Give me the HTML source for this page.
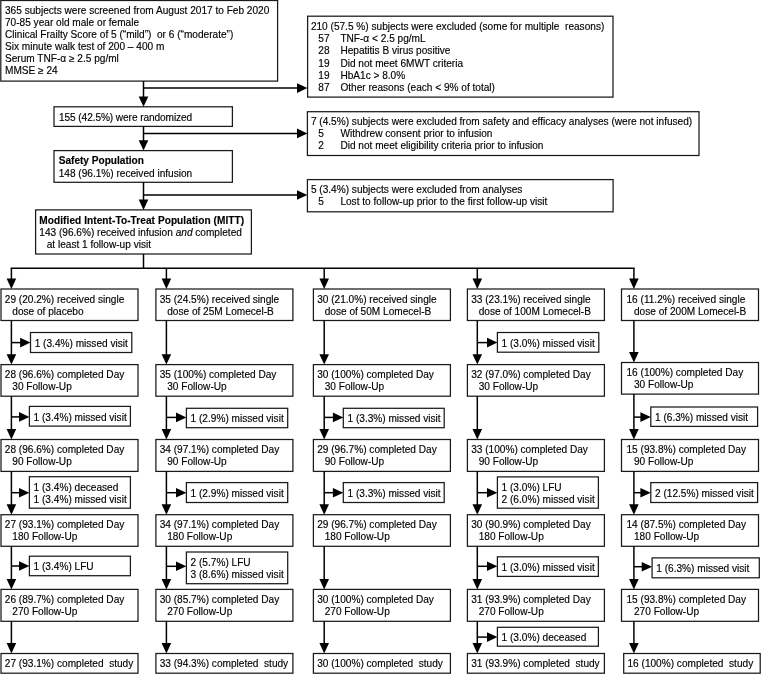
<!DOCTYPE html>
<html><head><meta charset="utf-8"><style>
html,body{margin:0;padding:0;background:#fff;}
body{width:761px;height:674px;overflow:hidden;}
svg{display:block;will-change:transform;}
text{font-family:"Liberation Sans",sans-serif;font-size:10.1px;fill:#000;stroke:#000;stroke-width:0.15px;white-space:pre;}
.bd{font-weight:bold;}
.b{fill:none;stroke:#1a1a1a;stroke-width:1.25;}
.l{fill:none;stroke:#000;stroke-width:1.5;}
.h{fill:#000;stroke:none;}
</style></head><body>
<svg width="761" height="674" viewBox="0 0 761 674" xml:space="preserve">
<rect x="0.80" y="0.50" width="276.80" height="80.60" class="b"/>
<text x="5.00" y="13.80">365 subjects were screened from August 2017 to Feb 2020</text>
<text x="5.00" y="25.90">70-85 year old male or female</text>
<text x="5.00" y="38.00">Clinical Frailty Score of 5 (“mild”)  or 6 (“moderate”)</text>
<text x="5.00" y="50.10">Six minute walk test of 200 – 400 m</text>
<text x="5.00" y="62.20">Serum TNF-α ≥ 2.5 pg/ml</text>
<text x="5.00" y="74.30">MMSE ≥ 24</text>
<path d="M143.50 81.10L143.50 101.80" class="l"/>
<path d="M138.70 96.40L148.30 96.40L143.50 106.80Z" class="h"/>
<path d="M143.50 88.10L302.40 88.10" class="l"/>
<path d="M297.00 83.30L297.00 92.90L307.40 88.10Z" class="h"/>
<rect x="307.60" y="16.20" width="305.40" height="80.90" class="b"/>
<text x="310.90" y="30.00">210 (57.5 %) subjects were excluded (some for multiple  reasons)</text>
<text x="318.30" y="42.10">57</text>
<text x="340.40" y="42.10">TNF-α &lt; 2.5 pg/mL</text>
<text x="318.30" y="54.30">28</text>
<text x="340.40" y="54.30">Hepatitis B virus positive</text>
<text x="318.30" y="66.50">19</text>
<text x="340.40" y="66.50">Did not meet 6MWT criteria</text>
<text x="318.30" y="78.70">19</text>
<text x="340.40" y="78.70">HbA1c &gt; 8.0%</text>
<text x="318.30" y="90.90">87</text>
<text x="340.40" y="90.90">Other reasons (each &lt; 9% of total)</text>
<rect x="54.00" y="106.80" width="178.40" height="19.60" class="b"/>
<text x="59.00" y="120.50" textLength="133.2" lengthAdjust="spacing">155 (42.5%) were randomized</text>
<path d="M143.50 126.40L143.50 145.60" class="l"/>
<path d="M138.70 140.20L148.30 140.20L143.50 150.60Z" class="h"/>
<path d="M143.50 133.40L302.40 133.40" class="l"/>
<path d="M297.00 128.60L297.00 138.20L307.40 133.40Z" class="h"/>
<rect x="307.40" y="111.70" width="391.60" height="43.80" class="b"/>
<text x="310.90" y="125.00">7 (4.5%) subjects were excluded from safety and efficacy analyses (were not infused)</text>
<text x="318.30" y="137.10">5</text>
<text x="340.40" y="137.10">Withdrew consent prior to infusion</text>
<text x="318.30" y="149.20">2</text>
<text x="340.40" y="149.20">Did not meet eligibility criteria prior to infusion</text>
<rect x="54.00" y="150.60" width="178.40" height="31.70" class="b"/>
<text x="58.70" y="164.30" class="bd">Safety Population</text>
<text x="58.70" y="176.60">148 (96.1%) received infusion</text>
<path d="M143.50 182.30L143.50 204.90" class="l"/>
<path d="M138.70 199.50L148.30 199.50L143.50 209.90Z" class="h"/>
<path d="M143.50 195.00L302.40 195.00" class="l"/>
<path d="M297.00 190.20L297.00 199.80L307.40 195.00Z" class="h"/>
<rect x="307.40" y="179.60" width="305.70" height="32.20" class="b"/>
<text x="310.90" y="192.90">5 (3.4%) subjects were excluded from analyses</text>
<text x="318.30" y="205.30">5</text>
<text x="340.40" y="205.30">Lost to follow-up prior to the first follow-up visit</text>
<rect x="35.60" y="209.90" width="215.80" height="44.10" class="b"/>
<text x="39.30" y="223.70" class="bd" textLength="204.8" lengthAdjust="spacing">Modified Intent-To-Treat Population (MITT)</text>
<text x="39.30" y="235.60">143 (96.6%) received infusion <tspan font-style="italic">and</tspan> completed</text>
<text x="46.70" y="248.20">at least 1 follow-up visit</text>
<path d="M143.50 254.00L143.50 268.20" class="l"/>
<path d="M10.65 268.20L634.65 268.20" class="l"/>
<path d="M11.40 268.20L11.40 284.00" class="l"/>
<path d="M6.60 278.60L16.20 278.60L11.40 289.00Z" class="h"/>
<rect x="1.00" y="289.00" width="137.00" height="31.50" class="b"/>
<text x="4.80" y="302.50">29 (20.2%) received single</text>
<text x="12.30" y="314.50">dose of placebo</text>
<path d="M11.40 320.50L11.40 359.60" class="l"/>
<path d="M6.60 354.20L16.20 354.20L11.40 364.60Z" class="h"/>
<rect x="1.00" y="364.60" width="137.00" height="31.60" class="b"/>
<text x="4.80" y="378.10">28 (96.6%) completed Day</text>
<text x="12.30" y="390.10">30 Follow-Up</text>
<path d="M11.40 396.20L11.40 434.50" class="l"/>
<path d="M6.60 429.10L16.20 429.10L11.40 439.50Z" class="h"/>
<rect x="1.00" y="439.50" width="137.00" height="31.90" class="b"/>
<text x="4.80" y="453.00">28 (96.6%) completed Day</text>
<text x="12.30" y="465.00">90 Follow-Up</text>
<path d="M11.40 471.40L11.40 509.70" class="l"/>
<path d="M6.60 504.30L16.20 504.30L11.40 514.70Z" class="h"/>
<rect x="1.00" y="514.70" width="137.00" height="31.60" class="b"/>
<text x="4.80" y="528.20">27 (93.1%) completed Day</text>
<text x="12.30" y="540.20">180 Follow-Up</text>
<path d="M11.40 546.30L11.40 584.40" class="l"/>
<path d="M6.60 579.00L16.20 579.00L11.40 589.40Z" class="h"/>
<rect x="1.00" y="589.40" width="137.00" height="31.90" class="b"/>
<text x="4.80" y="602.90">26 (89.7%) completed Day</text>
<text x="12.30" y="614.90">270 Follow-Up</text>
<path d="M11.40 621.30L11.40 648.50" class="l"/>
<path d="M6.60 643.10L16.20 643.10L11.40 653.50Z" class="h"/>
<rect x="1.00" y="653.50" width="137.00" height="19.70" class="b"/>
<text x="4.80" y="667.00">27 (93.1%) completed  study</text>
<path d="M166.40 268.20L166.40 284.00" class="l"/>
<path d="M161.60 278.60L171.20 278.60L166.40 289.00Z" class="h"/>
<rect x="155.90" y="289.00" width="137.00" height="31.50" class="b"/>
<text x="159.70" y="302.50">35 (24.5%) received single</text>
<text x="167.20" y="314.50">dose of 25M Lomecel-B</text>
<path d="M166.40 320.50L166.40 359.60" class="l"/>
<path d="M161.60 354.20L171.20 354.20L166.40 364.60Z" class="h"/>
<rect x="155.90" y="364.60" width="137.00" height="31.60" class="b"/>
<text x="159.70" y="378.10">35 (100%) completed Day</text>
<text x="167.20" y="390.10">30 Follow-Up</text>
<path d="M166.40 396.20L166.40 434.50" class="l"/>
<path d="M161.60 429.10L171.20 429.10L166.40 439.50Z" class="h"/>
<rect x="155.90" y="439.50" width="137.00" height="31.90" class="b"/>
<text x="159.70" y="453.00">34 (97.1%) completed Day</text>
<text x="167.20" y="465.00">90 Follow-Up</text>
<path d="M166.40 471.40L166.40 509.70" class="l"/>
<path d="M161.60 504.30L171.20 504.30L166.40 514.70Z" class="h"/>
<rect x="155.90" y="514.70" width="137.00" height="31.60" class="b"/>
<text x="159.70" y="528.20">34 (97.1%) completed Day</text>
<text x="167.20" y="540.20">180 Follow-Up</text>
<path d="M166.40 546.30L166.40 584.40" class="l"/>
<path d="M161.60 579.00L171.20 579.00L166.40 589.40Z" class="h"/>
<rect x="155.90" y="589.40" width="137.00" height="31.90" class="b"/>
<text x="159.70" y="602.90">30 (85.7%) completed Day</text>
<text x="167.20" y="614.90">270 Follow-Up</text>
<path d="M166.40 621.30L166.40 648.50" class="l"/>
<path d="M161.60 643.10L171.20 643.10L166.40 653.50Z" class="h"/>
<rect x="155.90" y="653.50" width="137.00" height="19.70" class="b"/>
<text x="159.70" y="667.00">33 (94.3%) completed  study</text>
<path d="M324.20 268.20L324.20 284.00" class="l"/>
<path d="M319.40 278.60L329.00 278.60L324.20 289.00Z" class="h"/>
<rect x="313.40" y="289.00" width="137.00" height="31.50" class="b"/>
<text x="317.20" y="302.50">30 (21.0%) received single</text>
<text x="324.70" y="314.50">dose of 50M Lomecel-B</text>
<path d="M324.20 320.50L324.20 359.60" class="l"/>
<path d="M319.40 354.20L329.00 354.20L324.20 364.60Z" class="h"/>
<rect x="313.40" y="364.60" width="137.00" height="31.60" class="b"/>
<text x="317.20" y="378.10">30 (100%) completed Day</text>
<text x="324.70" y="390.10">30 Follow-Up</text>
<path d="M324.20 396.20L324.20 434.50" class="l"/>
<path d="M319.40 429.10L329.00 429.10L324.20 439.50Z" class="h"/>
<rect x="313.40" y="439.50" width="137.00" height="31.90" class="b"/>
<text x="317.20" y="453.00">29 (96.7%) completed Day</text>
<text x="324.70" y="465.00">90 Follow-Up</text>
<path d="M324.20 471.40L324.20 509.70" class="l"/>
<path d="M319.40 504.30L329.00 504.30L324.20 514.70Z" class="h"/>
<rect x="313.40" y="514.70" width="137.00" height="31.60" class="b"/>
<text x="317.20" y="528.20">29 (96.7%) completed Day</text>
<text x="324.70" y="540.20">180 Follow-Up</text>
<path d="M324.20 546.30L324.20 584.40" class="l"/>
<path d="M319.40 579.00L329.00 579.00L324.20 589.40Z" class="h"/>
<rect x="313.40" y="589.40" width="137.00" height="31.90" class="b"/>
<text x="317.20" y="602.90">30 (100%) completed Day</text>
<text x="324.70" y="614.90">270 Follow-Up</text>
<path d="M324.20 621.30L324.20 648.50" class="l"/>
<path d="M319.40 643.10L329.00 643.10L324.20 653.50Z" class="h"/>
<rect x="313.40" y="653.50" width="137.00" height="19.70" class="b"/>
<text x="317.20" y="667.00">30 (100%) completed  study</text>
<path d="M477.30 268.20L477.30 284.00" class="l"/>
<path d="M472.50 278.60L482.10 278.60L477.30 289.00Z" class="h"/>
<rect x="467.40" y="289.00" width="137.00" height="31.50" class="b"/>
<text x="471.20" y="302.50">33 (23.1%) received single</text>
<text x="478.70" y="314.50">dose of 100M Lomecel-B</text>
<path d="M477.30 320.50L477.30 359.60" class="l"/>
<path d="M472.50 354.20L482.10 354.20L477.30 364.60Z" class="h"/>
<rect x="467.40" y="364.60" width="137.00" height="31.60" class="b"/>
<text x="471.20" y="378.10">32 (97.0%) completed Day</text>
<text x="478.70" y="390.10">30 Follow-Up</text>
<path d="M477.30 396.20L477.30 434.50" class="l"/>
<path d="M472.50 429.10L482.10 429.10L477.30 439.50Z" class="h"/>
<rect x="467.40" y="439.50" width="137.00" height="31.90" class="b"/>
<text x="471.20" y="453.00">33 (100%) completed Day</text>
<text x="478.70" y="465.00">90 Follow-Up</text>
<path d="M477.30 471.40L477.30 509.70" class="l"/>
<path d="M472.50 504.30L482.10 504.30L477.30 514.70Z" class="h"/>
<rect x="467.40" y="514.70" width="137.00" height="31.60" class="b"/>
<text x="471.20" y="528.20">30 (90.9%) completed Day</text>
<text x="478.70" y="540.20">180 Follow-Up</text>
<path d="M477.30 546.30L477.30 584.40" class="l"/>
<path d="M472.50 579.00L482.10 579.00L477.30 589.40Z" class="h"/>
<rect x="467.40" y="589.40" width="137.00" height="31.90" class="b"/>
<text x="471.20" y="602.90">31 (93.9%) completed Day</text>
<text x="478.70" y="614.90">270 Follow-Up</text>
<path d="M477.30 621.30L477.30 648.50" class="l"/>
<path d="M472.50 643.10L482.10 643.10L477.30 653.50Z" class="h"/>
<rect x="467.40" y="653.50" width="137.00" height="19.70" class="b"/>
<text x="471.20" y="667.00">31 (93.9%) completed  study</text>
<path d="M633.90 268.20L633.90 284.00" class="l"/>
<path d="M629.10 278.60L638.70 278.60L633.90 289.00Z" class="h"/>
<rect x="621.50" y="289.00" width="137.00" height="31.50" class="b"/>
<text x="626.50" y="302.50">16 (11.2%) received single</text>
<text x="634.00" y="314.50">dose of 200M Lomecel-B</text>
<path d="M633.90 320.50L633.90 357.50" class="l"/>
<path d="M629.10 352.10L638.70 352.10L633.90 362.50Z" class="h"/>
<rect x="621.50" y="362.50" width="137.00" height="31.60" class="b"/>
<text x="626.50" y="376.00">16 (100%) completed Day</text>
<text x="634.00" y="388.00">30 Follow-Up</text>
<path d="M633.90 394.10L633.90 434.50" class="l"/>
<path d="M629.10 429.10L638.70 429.10L633.90 439.50Z" class="h"/>
<rect x="621.50" y="439.50" width="137.00" height="31.90" class="b"/>
<text x="626.50" y="453.00">15 (93.8%) completed Day</text>
<text x="634.00" y="465.00">90 Follow-Up</text>
<path d="M633.90 471.40L633.90 509.70" class="l"/>
<path d="M629.10 504.30L638.70 504.30L633.90 514.70Z" class="h"/>
<rect x="621.50" y="514.70" width="137.00" height="31.60" class="b"/>
<text x="626.50" y="528.20">14 (87.5%) completed Day</text>
<text x="634.00" y="540.20">180 Follow-Up</text>
<path d="M633.90 546.30L633.90 584.40" class="l"/>
<path d="M629.10 579.00L638.70 579.00L633.90 589.40Z" class="h"/>
<rect x="621.50" y="589.40" width="137.00" height="31.90" class="b"/>
<text x="626.50" y="602.90">15 (93.8%) completed Day</text>
<text x="634.00" y="614.90">270 Follow-Up</text>
<path d="M633.90 621.30L633.90 648.50" class="l"/>
<path d="M629.10 643.10L638.70 643.10L633.90 653.50Z" class="h"/>
<rect x="623.70" y="653.50" width="136.50" height="19.70" class="b"/>
<text x="627.50" y="667.00">16 (100%) completed  study</text>
<rect x="30.50" y="332.50" width="101.30" height="20.00" class="b"/>
<path d="M11.40 342.60L25.50 342.60" class="l"/>
<path d="M20.10 337.80L20.10 347.40L30.50 342.60Z" class="h"/>
<text x="34.70" y="346.60">1 (3.4%) missed visit</text>
<rect x="497.40" y="332.50" width="101.40" height="19.70" class="b"/>
<path d="M477.30 342.60L492.40 342.60" class="l"/>
<path d="M487.00 337.80L487.00 347.40L497.40 342.60Z" class="h"/>
<text x="501.60" y="346.60">1 (3.0%) missed visit</text>
<rect x="29.40" y="406.40" width="101.00" height="19.70" class="b"/>
<path d="M11.40 416.90L24.40 416.90" class="l"/>
<path d="M19.00 412.10L19.00 421.70L29.40 416.90Z" class="h"/>
<text x="33.60" y="420.50">1 (3.4%) missed visit</text>
<rect x="186.40" y="408.30" width="101.30" height="19.40" class="b"/>
<path d="M166.40 417.40L181.40 417.40" class="l"/>
<path d="M176.00 412.60L176.00 422.20L186.40 417.40Z" class="h"/>
<text x="190.60" y="422.40">1 (2.9%) missed visit</text>
<rect x="343.30" y="408.30" width="100.90" height="19.40" class="b"/>
<path d="M324.20 417.40L338.30 417.40" class="l"/>
<path d="M332.90 412.60L332.90 422.20L343.30 417.40Z" class="h"/>
<text x="347.50" y="422.40">1 (3.3%) missed visit</text>
<rect x="650.80" y="407.00" width="106.80" height="19.40" class="b"/>
<path d="M633.90 417.10L645.80 417.10" class="l"/>
<path d="M640.40 412.30L640.40 421.90L650.80 417.10Z" class="h"/>
<text x="655.00" y="421.10">1 (6.3%) missed visit</text>
<rect x="29.40" y="476.70" width="101.00" height="31.50" class="b"/>
<path d="M11.40 492.70L24.40 492.70" class="l"/>
<path d="M19.00 487.90L19.00 497.50L29.40 492.70Z" class="h"/>
<text x="33.60" y="490.80">1 (3.4%) deceased</text>
<text x="33.60" y="502.80">1 (3.4%) missed visit</text>
<rect x="186.40" y="482.60" width="101.30" height="19.90" class="b"/>
<path d="M166.40 492.70L181.40 492.70" class="l"/>
<path d="M176.00 487.90L176.00 497.50L186.40 492.70Z" class="h"/>
<text x="190.60" y="496.70">1 (2.9%) missed visit</text>
<rect x="343.30" y="482.60" width="100.90" height="19.90" class="b"/>
<path d="M324.20 492.70L338.30 492.70" class="l"/>
<path d="M332.90 487.90L332.90 497.50L343.30 492.70Z" class="h"/>
<text x="347.50" y="496.70">1 (3.3%) missed visit</text>
<rect x="497.40" y="476.90" width="101.00" height="31.30" class="b"/>
<path d="M477.30 492.70L492.40 492.70" class="l"/>
<path d="M487.00 487.90L487.00 497.50L497.40 492.70Z" class="h"/>
<text x="501.60" y="491.00">1 (3.0%) LFU</text>
<text x="501.60" y="503.00">2 (6.0%) missed visit</text>
<rect x="650.80" y="482.60" width="106.80" height="19.90" class="b"/>
<path d="M633.90 492.70L645.80 492.70" class="l"/>
<path d="M640.40 487.90L640.40 497.50L650.80 492.70Z" class="h"/>
<text x="655.00" y="496.70">2 (12.5%) missed visit</text>
<rect x="29.40" y="556.20" width="101.00" height="19.50" class="b"/>
<path d="M11.40 566.00L24.40 566.00" class="l"/>
<path d="M19.00 561.20L19.00 570.80L29.40 566.00Z" class="h"/>
<text x="33.60" y="570.30">1 (3.4%) LFU</text>
<rect x="186.40" y="552.00" width="101.30" height="31.70" class="b"/>
<path d="M166.40 566.30L181.40 566.30" class="l"/>
<path d="M176.00 561.50L176.00 571.10L186.40 566.30Z" class="h"/>
<text x="190.60" y="566.10">2 (5.7%) LFU</text>
<text x="190.60" y="578.10">3 (8.6%) missed visit</text>
<rect x="497.40" y="556.80" width="101.00" height="19.60" class="b"/>
<path d="M477.30 566.30L492.40 566.30" class="l"/>
<path d="M487.00 561.50L487.00 571.10L497.40 566.30Z" class="h"/>
<text x="501.60" y="570.90">1 (3.0%) missed visit</text>
<rect x="652.10" y="557.90" width="107.20" height="19.90" class="b"/>
<path d="M633.90 566.70L647.10 566.70" class="l"/>
<path d="M641.70 561.90L641.70 571.50L652.10 566.70Z" class="h"/>
<text x="656.30" y="572.00">1 (6.3%) missed visit</text>
<rect x="497.40" y="627.30" width="101.00" height="18.90" class="b"/>
<path d="M477.30 637.10L492.40 637.10" class="l"/>
<path d="M487.00 632.30L487.00 641.90L497.40 637.10Z" class="h"/>
<text x="501.60" y="641.40">1 (3.0%) deceased</text>
</svg>
</body></html>
